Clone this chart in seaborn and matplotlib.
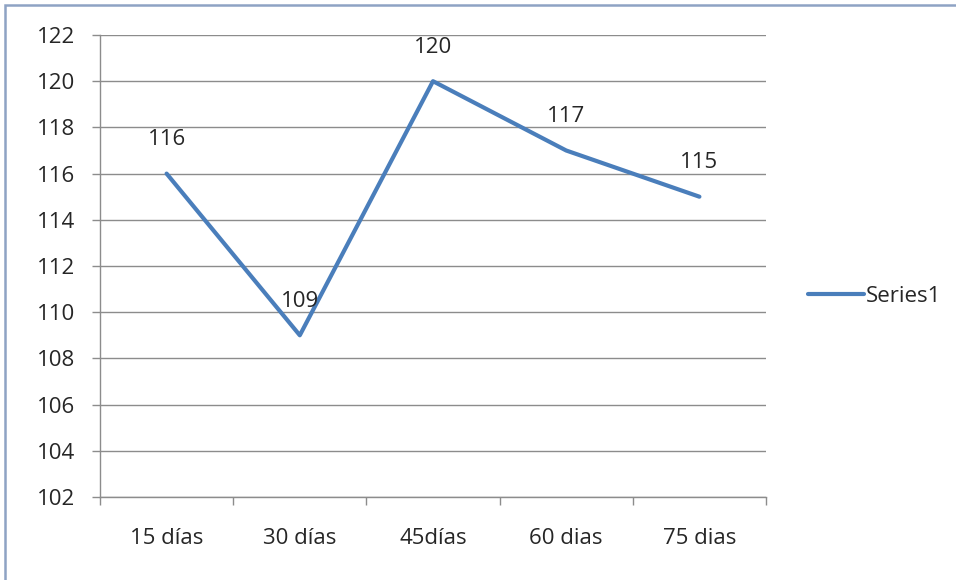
import matplotlib
matplotlib.use("Agg")
import matplotlib.pyplot as plt
from matplotlib.patches import Rectangle
from matplotlib.lines import Line2D
import seaborn as sns
import pandas as pd

categories = ["15 días", "30 días", "45días", "60 dias", "75 dias"]
values = [116, 109, 120, 117, 115]
series_name = "Series1"
y_ticks = [102, 104, 106, 108, 110, 112, 114, 116, 118, 120, 122]

sns.set_theme(style="white")
plt.rcParams["font.family"] = ["Open Sans", "DejaVu Sans"]

LINE = "#4a7ebb"
GRID = "#8c8c8c"
TEXT = "#262626"
FS = 16

df = pd.DataFrame({"cat": categories, "val": values, "series": series_name})

fig = plt.figure(figsize=(9.56, 5.8), dpi=100)
ax = fig.add_axes([100 / 956, 83 / 580, 666 / 956, 462 / 580])

sns.lineplot(data=df, x="cat", y="val", sort=False, color=LINE,
             linewidth=3.0, ax=ax, legend=False)

ax.set_xlim(-0.5, len(categories) - 0.5)
ax.set_ylim(y_ticks[0], y_ticks[-1])
ax.set_yticks(y_ticks)
ax.set_yticklabels([str(t) for t in y_ticks], fontsize=FS, color=TEXT)
ax.set_xticks(range(len(categories)))
ax.set_xticklabels(categories, fontsize=FS, color=TEXT)
ax.set_xticks([i - 0.5 for i in range(len(categories) + 1)], minor=True)
ax.tick_params(axis="x", which="major", length=0, pad=22)
ax.tick_params(axis="x", which="minor", length=6, width=1, color=GRID,
               direction="out", bottom=True)
ax.tick_params(axis="y", which="major", length=6, width=1, color=GRID,
               direction="out", left=True, pad=12)
ax.set_xlabel("")
ax.set_ylabel("")

ax.grid(axis="y", color=GRID, linewidth=1)
ax.set_axisbelow(True)
for side in ("top", "right"):
    ax.spines[side].set_visible(False)
for side in ("left", "bottom"):
    ax.spines[side].set_color(GRID)
    ax.spines[side].set_linewidth(1)

for i, v in enumerate(values):
    ax.annotate(str(v), (i, v), xytext=(0, 24.5), textcoords="offset points",
                ha="center", va="center", fontsize=FS, color=TEXT)

handle = Line2D([], [], color=LINE, linewidth=3.0)
fig.legend([handle], [series_name], loc="center left",
           bbox_to_anchor=(788 / 956, 1 - 296 / 580), frameon=False,
           fontsize=FS, handlelength=2.5, handletextpad=0.1,
           labelcolor=TEXT)

# chart area frame (continues past the right and bottom edges)
fig.patches.append(Rectangle((5 / 956, -0.1), 1.2, 1 - 5 / 580 + 0.1,
                             transform=fig.transFigure, fill=False,
                             edgecolor="#8ea3c4", linewidth=1.8,
                             clip_on=False))

fig.savefig("out.png", dpi=100)
